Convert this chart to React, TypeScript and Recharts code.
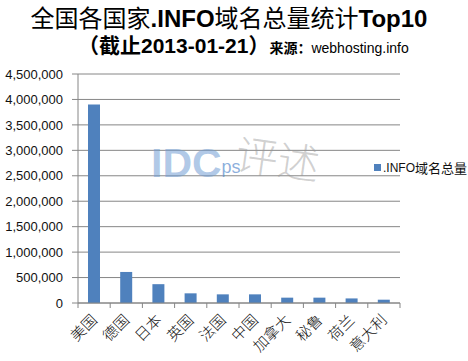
import { Bar, BarChart, CartesianGrid, XAxis, YAxis } from "recharts"

const countries = ["美国", "德国", "日本", "英国", "法国", "中国", "加拿大", "秘鲁", "荷兰", "意大利"]
const infoDomains = [3900000, 610000, 370000, 190000, 170000, 170000, 105000, 105000, 90000, 65000]
const yTicks = [0, 500000, 1000000, 1500000, 2000000, 2500000, 3000000, 3500000, 4000000, 4500000]

const chartData = countries.map((name, i) => ({ name, value: infoDomains[i] }))

const BAND = 32.2

function CountryTick(props: any) {
  const { x, y, payload, index } = props
  return (
    <g>
      <line x1={x - BAND / 2} y1={y - 8} x2={x - BAND / 2} y2={y - 3} stroke="#868686" />
      {index === countries.length - 1 && (
        <line x1={x + BAND / 2} y1={y - 8} x2={x + BAND / 2} y2={y - 3} stroke="#868686" />
      )}
      <text
        x={x + 4}
        y={y + 10}
        textAnchor="end"
        transform={`rotate(-45, ${x + 4}, ${y + 10})`}
        fontSize={15}
        fill="#111"
        fontFamily="'Noto Sans CJK SC'"
        fontWeight={300}
      >
        {payload.value}
      </text>
    </g>
  )
}

export default function App() {
  return (
    <div style={{ position: "absolute", left: 0, top: 0, width: 468, height: 361, background: "#fff" }}>
      <div
        style={{
          position: "absolute",
          left: 0,
          top: 3,
          width: 458,
          textAlign: "center",
          fontSize: 24,
          lineHeight: "28px",
          fontFamily: "'Noto Sans CJK SC'",
          color: "#000",
          whiteSpace: "nowrap",
        }}
      >
        全国各国家<b style={{ fontFamily: "'Liberation Sans'" }}>.INFO</b>域名总量统计
        <b style={{ fontFamily: "'Liberation Sans'" }}>Top10</b>
      </div>
      <div
        style={{
          position: "absolute",
          left: 78,
          top: 33,
          whiteSpace: "nowrap",
          fontFamily: "'Liberation Sans', 'Noto Sans CJK SC'",
          color: "#000",
          lineHeight: "26px",
        }}
      >
        <b style={{ fontSize: 21 }}>（截止2013-01-21）</b>
        <b style={{ fontSize: 14 }}>来源：</b>
        <span style={{ fontSize: 14 }}>webhosting.info</span>
      </div>

      <div style={{ position: "absolute", left: 0, top: 0 }}>
        <BarChart width={468} height={361} data={chartData} margin={{ top: 74, right: 68, bottom: 0, left: 0 }} barSize={12}>
          <CartesianGrid vertical={false} stroke="#868686" />
          <XAxis
            dataKey="name"
            interval={0}
            axisLine={{ stroke: "#868686" }}
            tickLine={false}
            tick={<CountryTick />}
            height={58}
          />
          <YAxis
            width={78}
            domain={[0, 4500000]}
            ticks={yTicks}
            tickFormatter={(v: number) => v.toLocaleString("en-US")}
            axisLine={{ stroke: "#868686" }}
            tickLine={{ stroke: "#868686" }}
            tickMargin={9}
            tick={{ fontSize: 13, fill: "#111", fontFamily: "'Liberation Sans'" }}
            interval={0}
          />
          <Bar dataKey="value" fill="#4f81bd" isAnimationActive={false} />
        </BarChart>
      </div>

      <div style={{ position: "absolute", left: 151, top: 139, pointerEvents: "none", whiteSpace: "nowrap", lineHeight: "48px" }}>
        <span style={{ fontFamily: "'Liberation Sans'", fontWeight: "bold", fontSize: 41, color: "rgba(110,155,210,0.55)" }}>
          IDC
        </span>
        <span style={{ fontFamily: "'Liberation Sans'", fontSize: 18, color: "rgba(90,140,205,0.7)", position: "relative", top: -4 }}>
          ps
        </span>
      </div>
      <div
        style={{
          position: "absolute",
          left: 236,
          top: 132,
          fontFamily: "'Noto Sans CJK SC'",
          fontSize: 42,
          fontWeight: 300,
          color: "rgba(150,150,150,0.45)",
          transform: "rotate(8deg)",
          whiteSpace: "nowrap",
          lineHeight: "50px",
        }}
      >
        评述
      </div>

      <div
        style={{
          position: "absolute",
          left: 374,
          top: 158,
          display: "flex",
          alignItems: "center",
          whiteSpace: "nowrap",
          fontFamily: "'Noto Sans CJK SC'",
          fontSize: 13,
          color: "#111",
        }}
      >
        <span style={{ width: 7, height: 7, background: "#4f81bd", marginRight: 2 }} />
        <span style={{ fontFamily: "'Liberation Sans'", fontSize: 12 }}>.INFO</span>
        <span>域名总量</span>
      </div>
    </div>
  )
}
